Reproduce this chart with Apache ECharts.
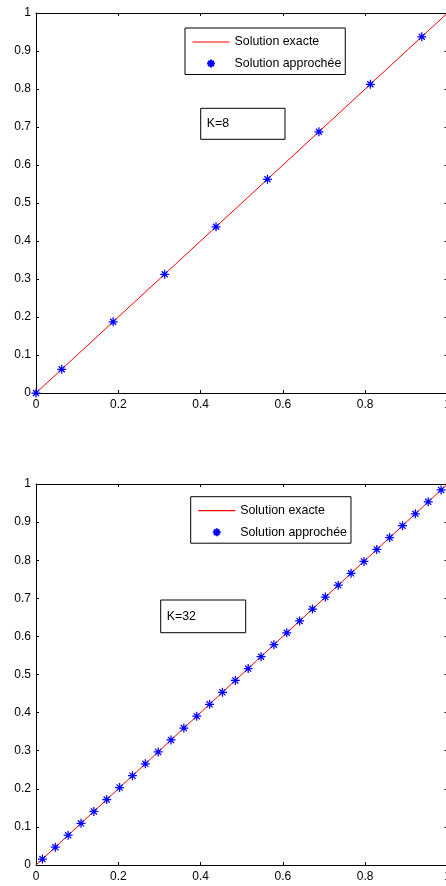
<!DOCTYPE html>
<html>
<head>
<meta charset="utf-8">
<script src="https://cdn.jsdelivr.net/npm/echarts@6/dist/echarts.min.js"></script>
<style>
html,body{margin:0;padding:0;background:#fff;}
#c{width:446px;height:886px;}
</style>
</head>
<body>
<div id="c"></div>
<script>
// Exact solution (line) for both panels
var exactX = [0, 1];
var exactY = [0, 1];
// K=8 approximate solution
var approxX8 = [0, 0.0625, 0.1875, 0.3125, 0.4375, 0.5625, 0.6875, 0.8125, 0.9375];
var approxY8 = [0, 0.0625, 0.1875, 0.3125, 0.4375, 0.5625, 0.6875, 0.8125, 0.9375];
// K=32 approximate solution
var approxX32 = [0.015625, 0.046875, 0.078125, 0.109375, 0.140625, 0.171875, 0.203125, 0.234375,
  0.265625, 0.296875, 0.328125, 0.359375, 0.390625, 0.421875, 0.453125, 0.484375,
  0.515625, 0.546875, 0.578125, 0.609375, 0.640625, 0.671875, 0.703125, 0.734375,
  0.765625, 0.796875, 0.828125, 0.859375, 0.890625, 0.921875, 0.953125, 0.984375];
var approxY32 = [0.015625, 0.046875, 0.078125, 0.109375, 0.140625, 0.171875, 0.203125, 0.234375,
  0.265625, 0.296875, 0.328125, 0.359375, 0.390625, 0.421875, 0.453125, 0.484375,
  0.515625, 0.546875, 0.578125, 0.609375, 0.640625, 0.671875, 0.703125, 0.734375,
  0.765625, 0.796875, 0.828125, 0.859375, 0.890625, 0.921875, 0.953125, 0.984375];
var seriesNames = ['Solution exacte', 'Solution approchée'];
var panelLabels = ['K=8', 'K=32'];

function pairs(xs, ys){ return xs.map(function(x,i){ return [x, ys[i]]; }); }

var FONT = 'Liberation Sans, Arial, Helvetica, sans-serif';
var STAR = 'path://M5,0L5,10M0,5L10,5M1.6,1.6L8.4,8.4M1.6,8.4L8.4,1.6';
var LINEICON = 'path://M0,0L37,0L37,1.2L0,1.2Z';

function xAx(grid, pos, showLabel){
  return {
    type:'value', gridIndex:grid, position:pos, min:0, max:1, interval:0.2,
    axisLine:{show:true, onZero:false, lineStyle:{color:'#000', width:1}},
    axisTick:{show:true, inside:true, length:3, lineStyle:{color:'#000'}},
    axisLabel:{show:showLabel, color:'#000', fontSize:12, fontFamily:FONT, margin:6},
    splitLine:{show:false}
  };
}
function yAx(grid, pos, showLabel){
  return {
    type:'value', gridIndex:grid, position:pos, min:0, max:1, interval:0.1,
    axisLine:{show:true, onZero:false, lineStyle:{color:'#000', width:1}},
    axisTick:{show:true, inside:true, length:3, lineStyle:{color:'#000'}},
    axisLabel:{show:showLabel, color:'#000', fontSize:12, fontFamily:FONT, margin:5},
    splitLine:{show:false}
  };
}
function legendAt(left, top){
  return {
    left:left, top:top, orient:'vertical', selectedMode:false,
    data:[{name:seriesNames[0], icon:LINEICON}, {name:seriesNames[1]}],
    itemWidth:37, itemHeight:8, itemGap:9.5, padding:[8,4,5,7.5],
    borderColor:'#000', borderWidth:1, backgroundColor:'#fff',
    textStyle:{color:'#000', fontSize:12.4, fontFamily:FONT}
  };
}
function lineSeries(xi, yi){
  return {name:seriesNames[0], type:'line', xAxisIndex:xi, yAxisIndex:yi,
    data:pairs(exactX, exactY), symbol:'none', silent:true, animation:false,
    lineStyle:{color:'#ff0000', width:1}, itemStyle:{color:'#ff0000'}, z:2};
}
function starSeries(xi, yi, xs, ys){
  return {name:seriesNames[1], type:'scatter', xAxisIndex:xi, yAxisIndex:yi,
    data:pairs(xs, ys), symbol:STAR, symbolSize:9, clip:false, silent:true, animation:false,
    itemStyle:{color:'#0000ff', borderColor:'#0000ff', borderWidth:1.25, opacity:1}, z:3};
}
function kBox(x, y, w, h, label){
  return {type:'group', children:[
    {type:'rect', shape:{x:x, y:y, width:w, height:h}, style:{fill:'#fff', stroke:'#000', lineWidth:1}, z:10},
    {type:'text', x:x+6, y:y+h/2, style:{text:label, fill:'#000', font:'12.4px '+FONT, textVerticalAlign:'middle', verticalAlign:'middle'}, z:11}
  ]};
}

var chart = echarts.init(document.getElementById('c'), null, {renderer:'canvas'});
chart.setOption({
  animation:false,
  backgroundColor:'#fff',
  grid:[
    {left:36, top:13, width:411.5, height:380, containLabel:false, outerBoundsMode:'none'},
    {left:36, top:484, width:411.5, height:381, containLabel:false, outerBoundsMode:'none'}
  ],
  xAxis:[xAx(0,'bottom',true), xAx(0,'top',false), xAx(1,'bottom',true), xAx(1,'top',false)],
  yAxis:[yAx(0,'left',true), yAx(0,'right',false), yAx(1,'left',true), yAx(1,'right',false)],
  legend:[legendAt(185, 28), legendAt(190.7, 496.7)],
  graphic:[kBox(200.7, 108.3, 84.3, 31, panelLabels[0]), kBox(160.7, 600, 85, 32.7, panelLabels[1])],
  series:[
    lineSeries(0,0), starSeries(0,0, approxX8, approxY8),
    lineSeries(2,2), starSeries(2,2, approxX32, approxY32)
  ]
});
</script>
</body>
</html>
